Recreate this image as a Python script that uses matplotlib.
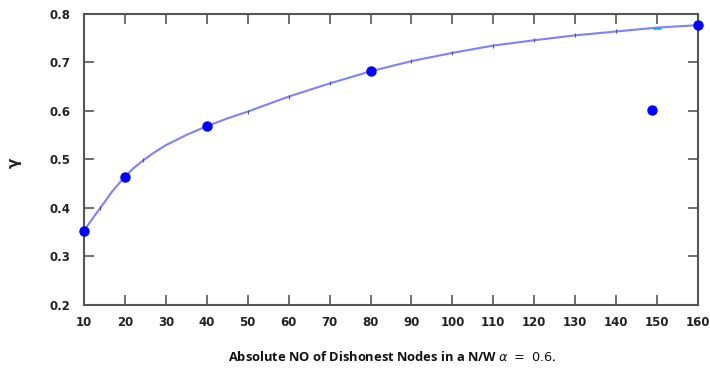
import matplotlib
matplotlib.use("Agg")
import matplotlib.pyplot as plt

# Smooth curve
curve_x = [10, 12, 14, 17, 20, 22, 24.5, 27, 30, 35, 40, 45, 50, 60, 70, 80, 90, 100,
           110, 120, 130, 140, 150, 160]
curve_y = [0.353, 0.377, 0.400, 0.435, 0.464, 0.481, 0.498, 0.513, 0.529, 0.550, 0.568,
           0.584, 0.598, 0.629, 0.656, 0.681, 0.702, 0.719, 0.734, 0.745, 0.755, 0.763,
           0.771, 0.776]

# Small tick marks seen on the curve
mark_x = [14, 24.5, 50, 60, 70, 90, 100, 110, 120, 130, 140]
mark_y = [0.400, 0.498, 0.598, 0.629, 0.656, 0.702, 0.719, 0.734, 0.745, 0.755, 0.763]

# Highlighted data points
pts_x = [10, 20, 40, 80, 160]
pts_y = [0.353, 0.464, 0.568, 0.681, 0.776]

# Stray point
extra_x = [148.8]
extra_y = [0.601]

xticks = list(range(10, 161, 10))
yticks = [0.2, 0.3, 0.4, 0.5, 0.6, 0.7, 0.8]

fig = plt.figure(figsize=(7.10, 3.72), dpi=100)
ax = fig.add_axes([84 / 710, 1 - 305 / 372, (698 - 84) / 710, (305 - 13.5) / 372])

ax.plot(curve_x, curve_y, color="#8080ff", lw=1.5, zorder=2, clip_on=False,
        solid_joinstyle="round")
ax.plot(mark_x, mark_y, ls="none", marker="|", ms=2.5, mew=0.8,
        color="#555577", zorder=3)
ax.plot([150], [0.771], ls="none", marker="_", ms=6, mew=2, color="#22aaee", zorder=3)
ax.plot(pts_x, pts_y, ls="none", marker="o", ms=6.5, color="#0000ff",
        mec="#0000ff", zorder=4, clip_on=False)
ax.plot(extra_x, extra_y, ls="none", marker="o", ms=6.5, color="#0000ff",
        zorder=4, clip_on=False)

ax.set_xlim(10, 160)
ax.set_ylim(0.2, 0.8)
ax.set_xticks(xticks)
ax.set_xticklabels([str(v) for v in xticks])
ax.set_yticks(yticks)
ax.set_yticklabels([f"{v:.1f}" for v in yticks])

for sp in ax.spines.values():
    sp.set_color("#555555")
    sp.set_linewidth(1.5)

ax.tick_params(axis="both", direction="in", length=7.5, width=1.2, color="#555555",
               top=True, right=True, labelsize=8.5)
ax.tick_params(axis="x", pad=8)
ax.tick_params(axis="y", pad=10)
for lab in ax.get_xticklabels() + ax.get_yticklabels():
    lab.set_fontweight("bold")
    lab.set_color("#222222")

fig.text(392 / 710, 1 - 357 / 372,
         r"Absolute NO of Dishonest Nodes in a N/W $\alpha\ =\ 0.6$.",
         ha="center", va="center", fontsize=9.3, fontweight="bold",
         family="Open Sans", color="#111111")
fig.text(16 / 710, 1 - 163 / 372, r"$\mathbf{\gamma}$", rotation=90, ha="center",
         va="center", fontsize=11, color="#222222")

fig.savefig("out.png", dpi=100)
